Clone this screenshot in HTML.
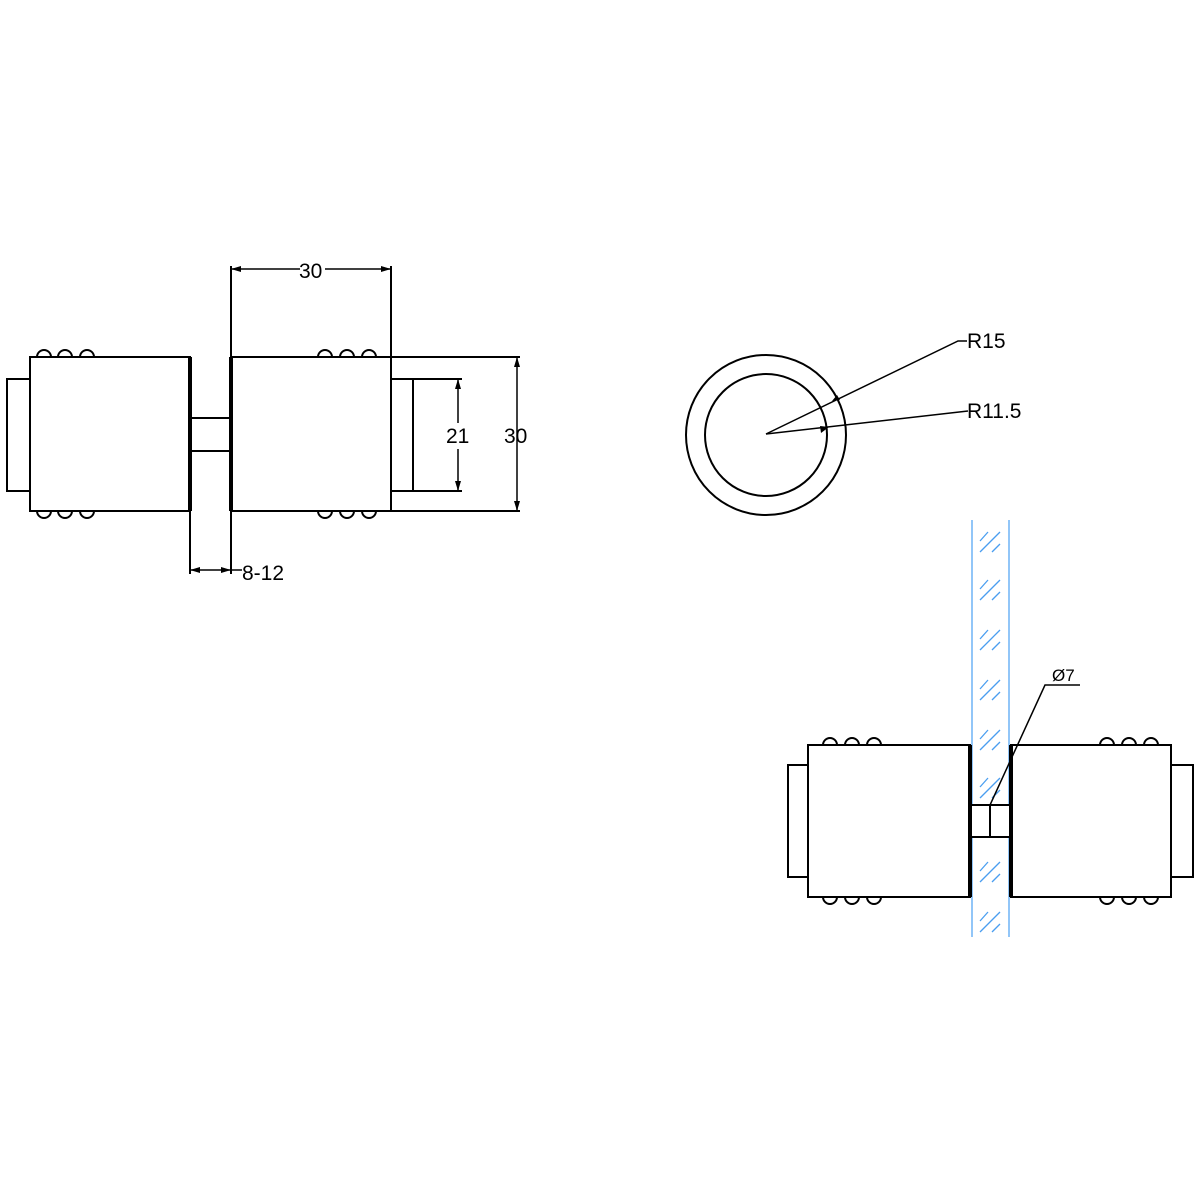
<!DOCTYPE html>
<html><head><style>body{margin:0;background:#fff}svg{display:block}</style></head>
<body>
<svg width="1200" height="1200" viewBox="0 0 1200 1200" xmlns="http://www.w3.org/2000/svg" font-family="Liberation Sans, sans-serif">
<defs>
<marker id="a" viewBox="0 0 10 6" refX="10" refY="3" markerWidth="10" markerHeight="6" orient="auto-start-reverse" markerUnits="userSpaceOnUse"><path d="M0,0L10,3L0,6z" fill="#000"/></marker>
<g id="hatch" stroke="#4a9ef0" stroke-width="1.3">
<line x1="980" y1="541" x2="988" y2="532"/><line x1="980" y1="552" x2="1000" y2="532"/><line x1="992" y1="552" x2="1000" y2="544"/>
</g>
</defs>
<g fill="none" stroke="#000" stroke-width="2">
<rect x="30" y="357" width="160" height="154"/>
<rect x="7" y="379" width="23" height="112"/>
<rect x="231" y="357" width="160" height="154"/>
<rect x="190" y="418" width="41" height="33"/>
<line x1="391" y1="379" x2="462" y2="379"/><line x1="391" y1="491" x2="462" y2="491"/>
<line x1="413" y1="379" x2="413" y2="491"/>
<line x1="391" y1="357" x2="520" y2="357"/><line x1="391" y1="511" x2="520" y2="511"/>
<line x1="231" y1="266" x2="231" y2="357"/><line x1="391" y1="266" x2="391" y2="357"/>
<line x1="190" y1="511" x2="190" y2="574"/><line x1="231" y1="511" x2="231" y2="574"/>
</g>
<g stroke="#000" stroke-width="4"><line x1="190" y1="357" x2="190" y2="511"/><line x1="231" y1="357" x2="231" y2="511"/></g>
<g fill="none" stroke="#000" stroke-width="2">
<path d="M37,357a7,7 0 0 1 14,0M58,357a7,7 0 0 1 14,0M80,357a7,7 0 0 1 14,0"/>
<path d="M37,511a7,7 0 0 0 14,0M58,511a7,7 0 0 0 14,0M80,511a7,7 0 0 0 14,0"/>
<path d="M318,357a7,7 0 0 1 14,0M340,357a7,7 0 0 1 14,0M362,357a7,7 0 0 1 14,0"/>
<path d="M318,511a7,7 0 0 0 14,0M340,511a7,7 0 0 0 14,0M362,511a7,7 0 0 0 14,0"/>
</g>
<g stroke="#000" stroke-width="1.5" fill="none">
<line x1="231" y1="269" x2="300" y2="269" marker-start="url(#a)"/><line x1="325" y1="269" x2="391" y2="269" marker-end="url(#a)"/>
<line x1="458" y1="379" x2="458" y2="423" marker-start="url(#a)"/><line x1="458" y1="449" x2="458" y2="491" marker-end="url(#a)"/>
<line x1="517" y1="357" x2="517" y2="511" marker-start="url(#a)" marker-end="url(#a)"/>
<line x1="190" y1="570" x2="231" y2="570" marker-start="url(#a)" marker-end="url(#a)"/>
<line x1="231" y1="570" x2="242" y2="570"/>
</g>
<g font-size="21" fill="#000">
<text x="299" y="278">30</text>
<text x="446" y="443">21</text>
<text x="504" y="443">30</text>
<text x="242" y="580">8-12</text>
</g>
<g fill="none" stroke="#000" stroke-width="2">
<circle cx="766" cy="435" r="80"/><circle cx="766" cy="435" r="61"/>
</g>
<g stroke="#000" stroke-width="1.5" fill="none">
<polyline points="766,434 958,341 967,341" />
<polyline points="766,434 968,411"/>
<path d="M840,400l-8,1 5,-6z" fill="#000" stroke="none"/>
<path d="M829,427l-9,-1 1,7z" fill="#000" stroke="none" transform="rotate(0)"/>
</g>
<g font-size="21" fill="#000"><text x="967" y="348">R15</text><text x="967" y="418">R11.5</text></g>
<g stroke="#6fb4f5" stroke-width="1.5"><line x1="972" y1="520" x2="972" y2="937"/><line x1="1009" y1="520" x2="1009" y2="937"/></g>
<use href="#hatch"/><use href="#hatch" y="48"/><use href="#hatch" y="98"/><use href="#hatch" y="148"/><use href="#hatch" y="198"/><use href="#hatch" y="246"/><use href="#hatch" y="330"/><use href="#hatch" y="380"/>
<g fill="#fff" stroke="#000" stroke-width="2">
<rect x="808" y="745" width="162" height="152"/>
<rect x="788" y="765" width="20" height="112"/>
<rect x="1011" y="745" width="160" height="152"/>
<rect x="1171" y="765" width="22" height="112"/>
<rect x="970" y="805" width="41" height="32"/>
<line x1="990" y1="805" x2="990" y2="837"/>
</g>
<g stroke="#000" stroke-width="4"><line x1="970" y1="745" x2="970" y2="897"/><line x1="1011" y1="745" x2="1011" y2="897"/></g>
<g fill="none" stroke="#000" stroke-width="2">
<path d="M823,745a7,7 0 0 1 14,0M845,745a7,7 0 0 1 14,0M867,745a7,7 0 0 1 14,0"/>
<path d="M823,897a7,7 0 0 0 14,0M845,897a7,7 0 0 0 14,0M867,897a7,7 0 0 0 14,0"/>
<path d="M1100,745a7,7 0 0 1 14,0M1122,745a7,7 0 0 1 14,0M1144,745a7,7 0 0 1 14,0"/>
<path d="M1100,897a7,7 0 0 0 14,0M1122,897a7,7 0 0 0 14,0M1144,897a7,7 0 0 0 14,0"/>
</g>
<polyline points="990,805 1045,685 1080,685" fill="none" stroke="#000" stroke-width="1.5"/>
<text x="1052" y="681" font-size="17" fill="#000">Ø7</text>
</svg>
</body></html>
